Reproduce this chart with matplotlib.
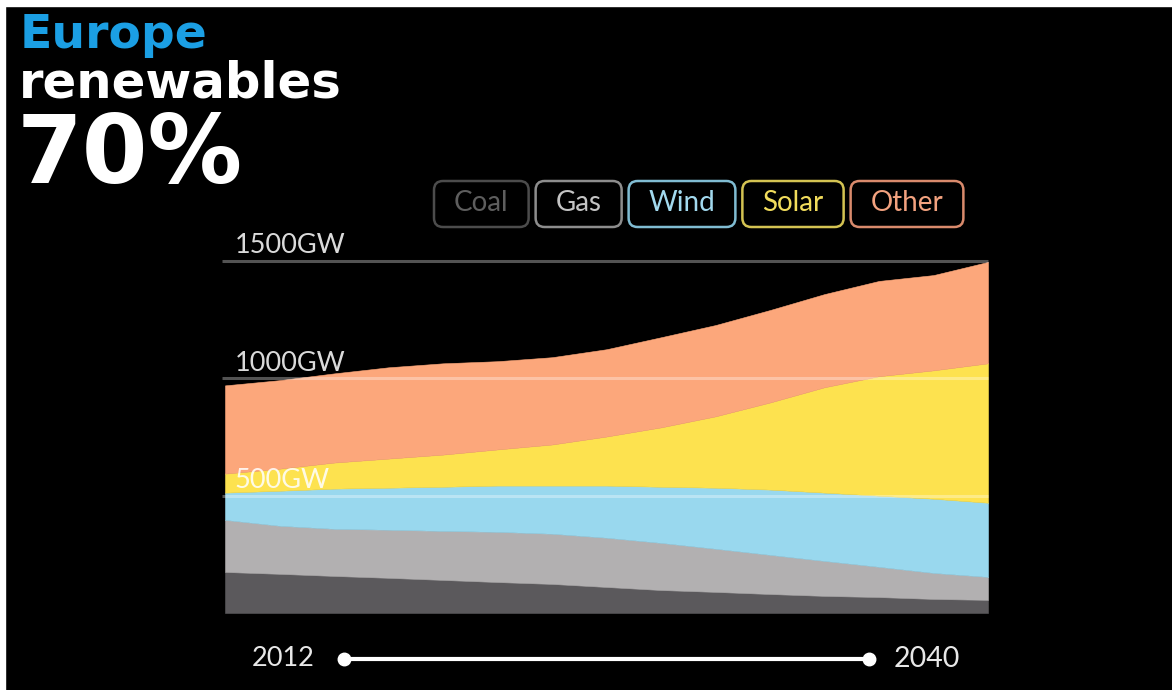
import matplotlib
matplotlib.use("Agg")
import matplotlib.pyplot as plt
from matplotlib.patches import FancyBboxPatch, Rectangle
from matplotlib.lines import Line2D
from matplotlib.transforms import IdentityTransform

# ---- data (GW of installed capacity, Europe) ----
years = [2012, 2014, 2016, 2018, 2020, 2022, 2024, 2026,
         2028, 2030, 2032, 2034, 2036, 2038, 2040]
coal = [175, 167, 158, 150, 141, 132, 124, 111, 98, 90, 81, 73, 68, 60, 56]
gas = [222, 205, 201, 205, 209, 214, 214, 210, 201, 184, 167, 149, 129, 111, 98]
wind = [116, 149, 171, 179, 188, 197, 205, 222, 239, 260, 278, 291, 303, 316, 316]
solar = [81, 94, 111, 124, 137, 154, 175, 209, 253, 304, 371, 449, 509, 547, 594]
other = [376, 377, 380, 389, 389, 376, 372, 372, 384, 389, 394, 397, 406, 406, 432]

series_names = ["Coal", "Gas", "Wind", "Solar", "Other"]
fill_colors = ["#5b595c", "#b2b0b1", "#99d8ee", "#fde24f", "#fca77b"]
legend_text_colors = ["#5e5e5e", "#c4c4c4", "#a2d9ee", "#f1dc5c", "#f3a27f"]
legend_edge_colors = ["#4c4c4c", "#8d8d8d", "#80bcd2", "#d4c352", "#d98a6c"]

grid_values = [500, 1000, 1500]
grid_labels = ["500GW", "1000GW", "1500GW"]
timeline_labels = ["2012", "2040"]

W, H = 1172, 690
fig = plt.figure(figsize=(W / 100, H / 100), dpi=100, facecolor="black")

def fx(px):
    return px / W

def fy(py):
    return 1 - py / H

# thin white frame on the top and left edges
fig.add_artist(Rectangle((0, fy(6)), 1, 6 / H, transform=fig.transFigure,
                         color="white", zorder=0))
fig.add_artist(Rectangle((0, 0), 5 / W, 1, transform=fig.transFigure,
                         color="white", zorder=0))

# ---- stacked area chart ----
ax = fig.add_axes([fx(225), fy(613), fx(988) - fx(225), fy(261) - fy(613)])
ax.set_facecolor("black")
ax.stackplot(years, coal, gas, wind, solar, other, colors=fill_colors,
             edgecolor="face", linewidth=0.4)
ax.set_xlim(years[0], years[-1])
ax.set_ylim(0, 1500)
ax.axis("off")

ytr = ax.get_yaxis_transform()
for val, lab in zip(grid_values, grid_labels):
    ax.plot([-0.004, 1.0], [val, val], transform=ytr, color="white",
            alpha=0.33, lw=2.2, clip_on=False, solid_capstyle="butt", zorder=5)
    ax.annotate(lab, xy=(0.013, val), xycoords=ytr, xytext=(0, 5.5),
                textcoords="offset points", ha="left", va="baseline",
                color="white", alpha=0.86, fontsize=19.5, family="Lato",
                zorder=6, annotation_clip=False)

# ---- boxed legend ----
renderer = fig.canvas.get_renderer()
ident = IdentityTransform()
x0, gap, pad_x = 434, 7, 20
box_top, box_h = 181, 46
for name, tc, ec in zip(series_names, legend_text_colors, legend_edge_colors):
    t = fig.text(0, 0, name, fontsize=20, color=tc, family="Lato",
                 ha="center", va="center", transform=ident)
    tw = t.get_window_extent(renderer).width
    bw = tw + 2 * pad_x
    box = FancyBboxPatch((x0, H - box_top - box_h), bw, box_h,
                         boxstyle="round,pad=0,rounding_size=9",
                         transform=ident, facecolor="none", edgecolor=ec,
                         linewidth=1.8)
    fig.add_artist(box)
    t.set_position((x0 + bw / 2, H - box_top - box_h / 2 + 1))
    x0 += bw + gap

# ---- headline ----
fig.text(fx(20), fy(48), "Europe", fontsize=34, weight="bold",
         family="DejaVu Sans", color="#1b9fe4", ha="left", va="baseline")
fig.text(fx(19), fy(97), "renewables", fontsize=35.8, weight="bold",
         family="DejaVu Sans", color="white", ha="left", va="baseline")
fig.text(fx(17), fy(183), "70%", fontsize=68, weight="bold",
         family="DejaVu Sans", color="white", ha="left", va="baseline")

# ---- timeline slider ----
line_y = fy(659)
fig.add_artist(Line2D([fx(344), fx(869)], [line_y, line_y],
                      transform=fig.transFigure, color="white", lw=3,
                      marker="o", markersize=9, markevery=[0, 1]))
fig.text(fx(283), line_y, timeline_labels[0], fontsize=19.5, family="Lato",
         color="#e8e8e8", ha="center", va="center")
fig.text(fx(927), line_y, timeline_labels[1], fontsize=20.5, family="Lato",
         color="#e8e8e8", ha="center", va="center")

fig.savefig("out.png", dpi=100, facecolor=fig.get_facecolor())
